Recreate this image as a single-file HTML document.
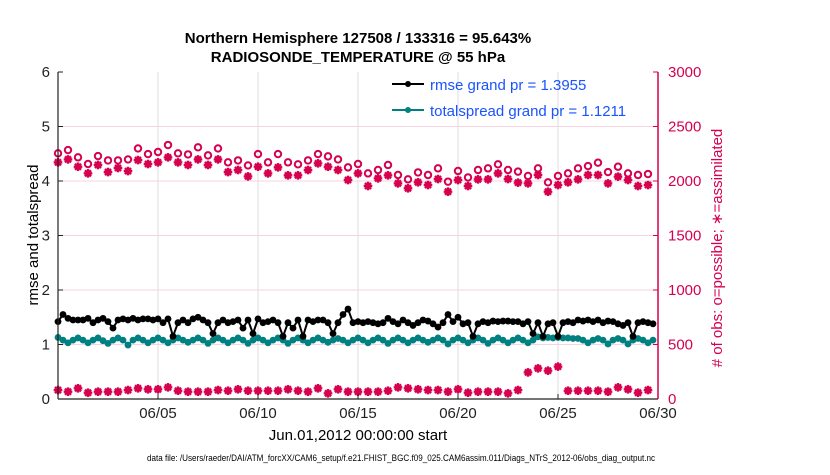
<!DOCTYPE html>
<html><head><meta charset="utf-8"><style>
body{margin:0;background:#fff;width:830px;height:470px;overflow:hidden}
svg{font-family:"Liberation Sans",sans-serif}
</style></head><body>
<svg id="chart" width="830" height="470" xmlns="http://www.w3.org/2000/svg">
<text x="358" y="43" text-anchor="middle" font-size="15" font-weight="bold">Northern Hemisphere 127508 / 133316 = 95.643%</text>
<text x="358" y="62" text-anchor="middle" font-size="15" font-weight="bold">RADIOSONDE_TEMPERATURE @ 55 hPa</text>
<g id="grid"></g>
<g id="marks"></g>
<g id="axes"></g>
<g>
<line x1="392" y1="84" x2="424" y2="84" stroke="#000" stroke-width="2"/><circle cx="408" cy="84" r="3" fill="#000"/>
<text x="430" y="90" font-size="15" fill="#1a53ff">rmse grand pr = 1.3955</text>
<line x1="392" y1="110" x2="424" y2="110" stroke="#008080" stroke-width="2"/><circle cx="408" cy="110" r="3" fill="#008080"/>
<text x="430" y="116" font-size="15" fill="#1a53ff">totalspread grand pr = 1.1211</text>
</g>
<text x="358" y="440" text-anchor="middle" font-size="15">Jun.01,2012 00:00:00 start</text>
<text transform="translate(38,235) rotate(-90)" text-anchor="middle" font-size="15">rmse and totalspread</text>
<text transform="translate(722,248) rotate(-90)" text-anchor="middle" font-size="15" fill="#d6004f"># of obs: o=possible; ∗=assimilated</text>
<text x="401" y="461" text-anchor="middle" font-size="9" textLength="508" lengthAdjust="spacingAndGlyphs">data file: /Users/raeder/DAI/ATM_forcXX/CAM6_setup/f.e21.FHIST_BGC.f09_025.CAM6assim.011/Diags_NTrS_2012-06/obs_diag_output.nc</text>
</svg>
<script>
const xTickLabels=["06/05","06/10","06/15","06/20","06/25","06/30"];
const xTickDays=[5,10,15,20,25,30];
const yLeftTicks=[0,1,2,3,4,5,6];
const yRightTicks=[0,500,1000,1500,2000,2500,3000];
const possible=[2254,2284,2217,2156,2229,2189,2189,2198,2299,2247,2266,2330,2254,2244,2309,2235,2299,2171,2189,2143,2247,2171,2247,2171,2153,2189,2247,2226,2198,2125,2156,2070,2101,2147,2055,2015,2079,2055,2116,1994,2092,2033,2101,2116,2153,2101,2086,2046,2116,1988,2046,2070,2116,2137,2168,2082,2131,2070,2055,2064];
const assimilated=[2171,2198,2131,2070,2147,2082,2119,2091,2192,2156,2171,2217,2171,2147,2198,2147,2198,2082,2101,2042,2131,2070,2125,2052,2052,2101,2162,2131,2101,2009,2070,1954,2024,2052,1978,1933,1988,1963,2018,1902,2009,1954,2015,2015,2070,2018,1985,1978,2055,1902,1963,1988,2015,2055,2055,1978,2040,2009,1954,1963];
const lowCount=[82,67,98,58,67,67,67,82,98,89,89,107,76,67,67,67,82,76,89,76,76,76,76,89,76,67,98,52,89,67,67,67,67,76,107,98,89,82,82,67,89,58,67,67,67,52,82,244,281,260,297,76,76,76,76,67,107,89,58,82];
const rmse=[1.42,1.55,1.48,1.45,1.45,1.45,1.48,1.40,1.45,1.48,1.42,1.30,1.45,1.47,1.45,1.48,1.45,1.47,1.47,1.45,1.47,1.40,1.47,1.15,1.40,1.45,1.40,1.47,1.50,1.45,1.40,1.20,1.40,1.45,1.40,1.42,1.45,1.30,1.45,1.20,1.47,1.40,1.42,1.45,1.40,1.15,1.40,1.30,1.45,1.15,1.45,1.42,1.45,1.45,1.40,1.20,1.40,1.55,1.65,1.40,
1.42,1.40,1.42,1.40,1.38,1.40,1.48,1.42,1.38,1.45,1.40,1.35,1.40,1.45,1.43,1.38,1.32,1.40,1.55,1.42,1.50,1.38,1.40,1.15,1.38,1.42,1.40,1.43,1.42,1.43,1.43,1.42,1.42,1.38,1.42,1.20,1.40,1.15,1.38,1.40,1.15,1.40,1.42,1.40,1.45,1.43,1.45,1.42,1.45,1.40,1.43,1.42,1.38,1.35,1.40,1.15,1.40,1.42,1.40,1.38];
const spread=[1.13,1.08,1.03,1.08,1.12,1.08,1.03,1.08,1.12,1.07,1.02,1.08,1.12,1.08,0.99,1.08,1.12,1.08,1.03,1.08,1.12,1.08,1.03,1.08,1.12,1.08,1.04,1.08,1.12,1.08,1.02,1.08,1.12,1.08,1.03,1.08,1.12,1.08,1.02,1.08,1.12,1.08,1.03,1.08,1.12,1.08,1.02,1.08,1.12,1.08,1.03,1.08,1.12,1.08,1.04,1.08,1.11,1.08,1.03,1.08,
1.12,1.08,1.03,1.08,1.12,1.08,1.02,1.08,1.12,1.08,1.03,1.08,1.12,1.08,1.04,1.08,1.12,1.08,1.01,1.08,1.12,1.08,1.03,1.08,1.12,1.08,1.02,1.08,1.12,1.08,1.03,1.08,1.12,1.08,1.03,1.08,1.14,1.12,1.13,1.12,1.13,1.12,1.12,1.11,1.11,1.08,1.03,1.08,1.11,1.08,1.01,1.08,1.11,1.08,1.01,1.08,1.11,1.08,1.03,1.08];
const L=58,R=658,T=72,B=399;
const xs=d=>L+(d/30)*(R-L);
const yl=v=>B-(v/6)*(B-T);
const yr=v=>B-(v/3000)*(B-T);
const NS="http://www.w3.org/2000/svg";
function mk(tag,attrs,parent){const e=document.createElementNS(NS,tag);for(const k in attrs)e.setAttribute(k,attrs[k]);parent.appendChild(e);return e;}
const grid=document.getElementById('grid'),marks=document.getElementById('marks'),axes=document.getElementById('axes');
mk('rect',{x:L,y:T,width:R-L,height:B-T,fill:'#fff'},grid);
xTickDays.forEach((d,i)=>{
 const g=mk('line',{x1:xs(d),x2:xs(d),y1:T,y2:B,stroke:'#dcdcdc','stroke-width':1},grid);
 
 
 mk('line',{x1:xs(d),x2:xs(d),y1:B,y2:B-5,stroke:'#222'},axes);
 const t=mk('text',{x:xs(d),y:418,'text-anchor':'middle','font-size':15,fill:'#222'},axes);
 t.textContent=xTickLabels[i];
 
 
});
yRightTicks.forEach(v=>{
 if(v>0&&v<3000){const g=mk('line',{x1:L,x2:R,y1:yr(v),y2:yr(v),stroke:'#f6d3df','stroke-width':1},grid);
 
 }
 mk('line',{x1:R,x2:R-5,y1:yr(v),y2:yr(v),stroke:'#d6004f'},axes);
 const t=mk('text',{x:668,y:yr(v)+5,'font-size':15,fill:'#d6004f'},axes);
 t.textContent=v;
 
 
});
yLeftTicks.forEach(v=>{
 mk('line',{x1:L,x2:L+5,y1:yl(v),y2:yl(v),stroke:'#222'},axes);
 const t=mk('text',{x:50,y:yl(v)+5,'text-anchor':'end','font-size':15,fill:'#222'},axes);
 t.textContent=v;
 
 
});
mk('line',{x1:L,x2:L,y1:T,y2:B,stroke:'#222','stroke-width':1.2},axes);
mk('line',{x1:L,x2:R,y1:B,y2:B,stroke:'#222','stroke-width':1.2},axes);
mk('line',{x1:R,x2:R,y1:T,y2:B,stroke:'#d6004f','stroke-width':1.5},axes);
const PINK='#d6004f';
function star(cx,cy,name){
 const g=mk('g',{},marks);
 
 
 [0,45,90,135].forEach(a=>{const r=a*Math.PI/180;mk('line',{x1:cx-4.3*Math.cos(r),y1:cy-4.3*Math.sin(r),x2:cx+4.3*Math.cos(r),y2:cy+4.3*Math.sin(r),stroke:PINK,'stroke-width':2.4},g);});
}
function series(vals,color,name){
 const pts=vals.map((v,i)=>xs(i*0.25)+','+yl(v)).join(' ');
 const p=mk('polyline',{points:pts,fill:'none',stroke:color,'stroke-width':2},marks);
 
 
 vals.forEach((v,i)=>{const c=mk('circle',{cx:xs(i*0.25),cy:yl(v),r:3.4,fill:color},marks);
 
 });
}
series(spread,'#008080','totalspread');
series(rmse,'#000','rmse');
possible.forEach((v,i)=>{const c=mk('circle',{cx:xs(i*0.5),cy:yr(v),r:3.2,fill:'none',stroke:PINK,'stroke-width':2},marks);
 
 });
assimilated.forEach((v,i)=>star(xs(i*0.5),yr(v),'assimilated-obs-point'));
lowCount.forEach((v,i)=>{star(xs(i*0.5),yr(v),'low-count-obs-point');});
</script>
</body></html>
